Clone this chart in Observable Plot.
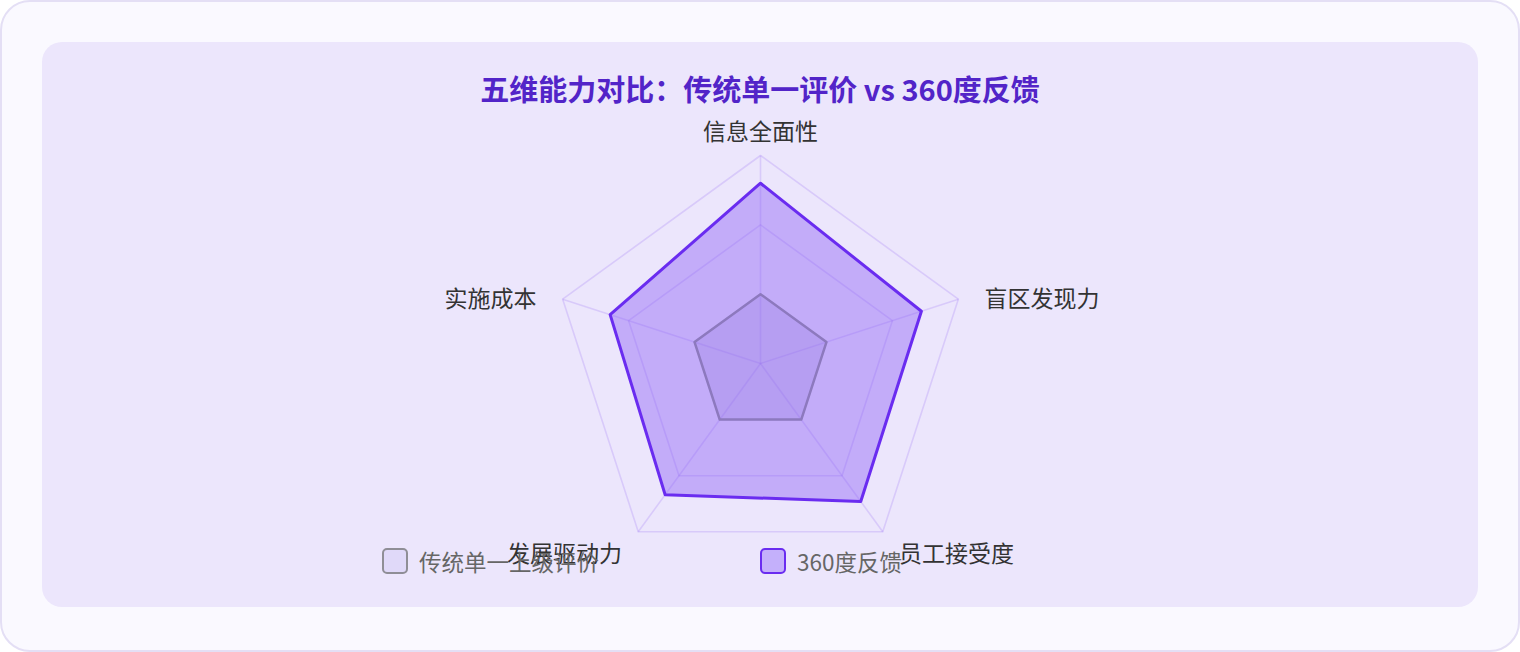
<!DOCTYPE html>
<html><head><meta charset="utf-8">
<script src="https://cdn.jsdelivr.net/npm/d3@7"></script>
<script src="https://cdn.jsdelivr.net/npm/@observablehq/plot@0.6"></script>
<style>
body{margin:0;background:#fff;font-family:"Noto Sans CJK SC","Noto Sans",sans-serif;width:1520px;height:652px;overflow:hidden;position:relative;}
#card{position:absolute;left:0;top:0;width:1516px;height:648px;border:2px solid #e4dff5;border-radius:30px;background:#faf9ff;}
#panel{position:absolute;left:42px;top:42px;width:1436px;height:565px;border-radius:20px;background:#ece6fc;}
#title{position:absolute;left:0;width:1520px;top:69px;text-align:center;font-size:29px;line-height:38px;font-weight:700;color:#5224c8;}
#chart{position:absolute;left:0;top:0;}
.leg{position:absolute;top:546px;height:30px;display:flex;align-items:center;font-size:22.5px;color:#666;}
.box{width:22px;height:22px;border-radius:5px;border:2px solid;margin-right:11px;box-sizing:content-box;}
</style></head>
<body>
<div id="card"></div>
<div id="panel"></div>
<div id="chart"></div>
<div id="title">五维能力对比：传统单一评价 vs 360度反馈</div>
<div id="legend"></div>
<script>
const axes = ["信息全面性", "盲区发现力", "员工接受度", "发展驱动力", "实施成本"];
const traditional = [1, 1, 1, 1, 1];
const feedback360 = [2.6, 2.44, 2.46, 2.34, 2.28];
const gridLevels = [1, 2, 3];
const maxValue = 3;
const seriesNames = ["传统单一上级评价", "360度反馈"];
const seriesStroke = ["#8f8e96", "#6a2cf0"];
const seriesFill = ["rgba(150,135,205,0.26)", "rgba(139,92,246,0.42)"];

const n = axes.length;
const pt = (i, v) => {
  const a = 2 * Math.PI * i / n;
  const r = v / maxValue;
  return {x: r * Math.sin(a), y: r * Math.cos(a)};
};
const gridPts = gridLevels.flatMap(l => axes.map((_, i) => ({...pt(i, l), level: l})));
const spokes = axes.map((_, i) => { const p = pt(i, maxValue); return {x1: 0, y1: 0, x2: p.x, y2: p.y}; });
const tradPts = traditional.map((v, i) => pt(i, v));
const fbPts = feedback360.map((v, i) => pt(i, v));
const labelR = 1.132 * maxValue;
const labels = axes.map((name, i) => ({...pt(i, labelR), name}));
const gridColor = "rgba(139,92,246,0.2)";
const eps = 1e-6;
const lab = (filter, anchor, dy) => Plot.text(labels.filter(filter), {x: "x", y: "y", text: "name", textAnchor: anchor, dy, fontSize: 23, fill: "#333"});

const chart = Plot.plot({
  width: 1520, height: 652,
  x: {domain: [-1, 1], range: [760 - 208, 760 + 208], axis: null},
  y: {domain: [-1, 1], range: [363 + 208, 363 - 208], axis: null},
  style: {background: "transparent", fontFamily: "'Noto Sans CJK SC', sans-serif", overflow: "visible"},
  marks: [
    Plot.line(gridPts, {x: "x", y: "y", z: "level", curve: "linear-closed", stroke: gridColor, strokeWidth: 1.6}),
    Plot.link(spokes, {x1: "x1", y1: "y1", x2: "x2", y2: "y2", stroke: gridColor, strokeWidth: 1.6}),
    Plot.line(tradPts, {x: "x", y: "y", curve: "linear-closed", fill: seriesFill[0], stroke: seriesStroke[0], strokeWidth: 2.5}),
    Plot.line(fbPts, {x: "x", y: "y", curve: "linear-closed", fill: seriesFill[1], stroke: seriesStroke[1], strokeWidth: 3}),
    lab(d => Math.abs(d.x) < eps, "middle", 5),
    lab(d => d.x > eps && d.y > 0, "start", 9),
    lab(d => d.x < -eps && d.y > 0, "end", 9),
    lab(d => d.x > eps && d.y < 0, "start", 1),
    lab(d => d.x < -eps && d.y < 0, "end", 1)
  ]
});
document.getElementById("chart").appendChild(chart);

const legLeft = [382, 760];
const boxFill = ["rgba(215,205,245,0.55)", "rgba(196,176,251,1)"];
const leg = document.getElementById("legend");
seriesNames.forEach((s, i) => {
  const d = document.createElement("div");
  d.className = "leg";
  d.style.left = legLeft[i] + "px";
  d.innerHTML = `<div class="box" style="border-color:${seriesStroke[i]};background:${boxFill[i]}"></div><span>${s}</span>`;
  leg.appendChild(d);
});
</script>
</body></html>
